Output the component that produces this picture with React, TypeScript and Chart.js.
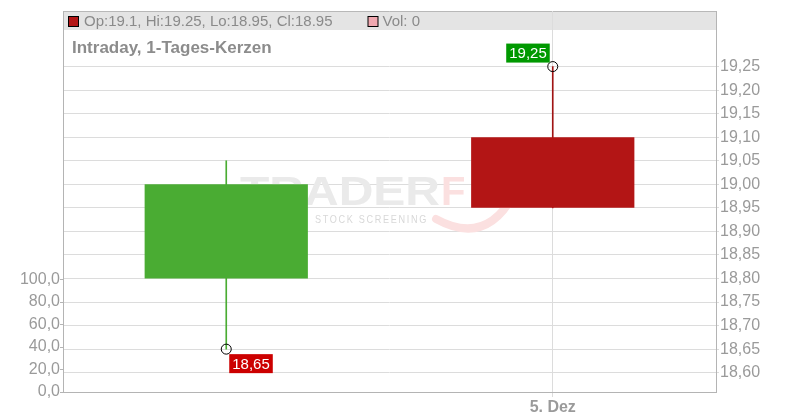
import React, { useEffect, useRef } from 'react';
import { Chart, registerables } from 'chart.js';

Chart.register(...registerables);

// candle data (two daily candles, only the second one carries a date label)
const categories = ['4. Dez', '5. Dez'];
const opens = [18.8, 19.1];
const highs = [19.05, 19.25];
const lows = [18.65, 18.95];
const closes = [19.0, 18.95];
const volumes = [0, 0];

// high / low markers with their value boxes
const markerValues = [18.65, 19.25];
const markerKinds = ['low', 'high'];

// axis ticks
const priceTicks = [18.6, 18.65, 18.7, 18.75, 18.8, 18.85, 18.9, 18.95, 19.0, 19.05, 19.1, 19.15, 19.2, 19.25];
const volumeTicks = [0, 20, 40, 60, 80, 100];
const priceMin = 18.559;
const priceMax = 19.368;
const volumeMax = 339;

const UP = '#4aac33';
const DOWN = '#b31515';
const GRID = '#dcdcdc';
const AXIS = '#b4b4b4';
const TEXT = '#9a9a9a';
const FONT = "'Liberation Sans', Arial, sans-serif";

const fmt = (v: number, d: number) => v.toFixed(d).replace('.', ',');

const headerPlugin = {
  id: 'header',
  beforeDraw(chart: Chart) {
    const { ctx, chartArea } = chart;
    const { left, right, top } = chartArea;
    const last = opens.length - 1;
    ctx.save();
    ctx.fillStyle = '#e4e4e4';
    ctx.fillRect(left, top, right - left, 19);
    ctx.strokeStyle = '#b8b8b8';
    ctx.lineWidth = 1;
    ctx.beginPath();
    ctx.moveTo(left, top + 0.5);
    ctx.lineTo(right, top + 0.5);
    ctx.stroke();

    // OHLC legend
    ctx.fillStyle = DOWN;
    ctx.fillRect(left + 5.5, top + 5.5, 10, 10);
    ctx.strokeStyle = '#000';
    ctx.strokeRect(left + 5.5, top + 5.5, 10, 10);
    ctx.font = `15px ${FONT}`;
    ctx.textBaseline = 'middle';
    ctx.fillStyle = '#8a8a8a';
    const ohlc = `Op:${opens[last]}, Hi:${highs[last]}, Lo:${lows[last]}, Cl:${closes[last]}`;
    ctx.fillText(ohlc, left + 21, top + 10.5);
    const volX = left + 21 + ctx.measureText(ohlc).width + 35;
    ctx.fillStyle = '#f0a8b0';
    ctx.fillRect(volX + 0.5, top + 5.5, 10, 10);
    ctx.strokeRect(volX + 0.5, top + 5.5, 10, 10);
    ctx.fillStyle = '#8a8a8a';
    ctx.fillText(`Vol: ${volumes[last]}`, volX + 15, top + 10.5);

    // title
    ctx.font = `bold 17px ${FONT}`;
    ctx.fillStyle = '#8c8c8c';
    ctx.fillText('Intraday, 1-Tages-Kerzen', left + 9, top + 37);
    ctx.restore();
  },
  beforeDatasetsDraw(chart: Chart) {
    // faint watermark
    const { ctx } = chart;
    ctx.save();
    ctx.textBaseline = 'alphabetic';
    ctx.font = `bold 40px ${FONT}`;
    const w = ctx.measureText('TRADER').width;
    ctx.translate(240, 205);
    ctx.scale(200 / w, 1);
    ctx.fillStyle = '#eaeaea';
    ctx.fillText('TRADER', 0, 0);
    ctx.restore();
    ctx.save();
    ctx.font = `bold 40px ${FONT}`;
    ctx.fillStyle = '#fbe0e0';
    ctx.fillText('F', 441, 205);
    ctx.strokeStyle = '#fbe0e0';
    ctx.lineWidth = 8;
    ctx.lineCap = 'round';
    ctx.beginPath();
    ctx.moveTo(436, 219);
    ctx.quadraticCurveTo(485, 246, 513, 196);
    ctx.stroke();
    ctx.font = `11px ${FONT}`;
    ctx.fillStyle = '#d8d8d8';
    ctx.letterSpacing = '2px';
    const sw = ctx.measureText('STOCK SCREENING').width;
    ctx.translate(315, 223);
    ctx.scale(113 / sw, 1);
    ctx.fillText('STOCK SCREENING', 0, 0);
    ctx.restore();
  },
  afterDatasetsDraw(chart: Chart) {
    const meta = chart.getDatasetMeta(3);
    const { ctx } = chart;
    ctx.save();
    ctx.font = `15px ${FONT}`;
    ctx.textBaseline = 'middle';
    meta.data.forEach((pt: any, i: number) => {
      const label = fmt(markerValues[i], 2);
      const tw = ctx.measureText(label).width + 6;
      const h = 19;
      let bx: number;
      let by: number;
      if (markerKinds[i] === 'high') {
        bx = pt.x - 3 - tw;
        by = pt.y - 4 - h;
        ctx.fillStyle = '#009900';
      } else {
        bx = pt.x + 3;
        by = pt.y + 5;
        ctx.fillStyle = '#cc0000';
      }
      ctx.fillRect(bx, by, tw, h);
      ctx.fillStyle = '#ffffff';
      ctx.fillText(label, bx + 3, by + h / 2 + 1);
    });
    ctx.restore();
  },
};

const App: React.FC = () => {
  const canvasRef = useRef<HTMLCanvasElement>(null);

  useEffect(() => {
    if (!canvasRef.current) return;
    Chart.defaults.font.family = FONT;
    const colors = opens.map((o, i) => (closes[i] >= o ? UP : DOWN));
    const wickColors = opens.map((o, i) => (closes[i] >= o ? UP : '#a01414'));

    const chart = new Chart(canvasRef.current, {
      type: 'bar',
      data: {
        labels: categories,
        datasets: [
          {
            type: 'bar',
            data: lows.map((l, i) => [l, highs[i]]) as any,
            backgroundColor: wickColors,
            barThickness: 1,
            grouped: false,
            yAxisID: 'yPrice',
            order: 3,
          },
          {
            type: 'bar',
            data: opens.map((o, i) => [o, closes[i]]) as any,
            backgroundColor: colors,
            barPercentage: 0.5,
            categoryPercentage: 1,
            grouped: false,
            yAxisID: 'yPrice',
            order: 2,
          },
          {
            type: 'bar',
            data: volumes,
            backgroundColor: '#f0a8b0',
            barPercentage: 0.5,
            categoryPercentage: 1,
            grouped: false,
            yAxisID: 'yVol',
            order: 4,
          },
          {
            type: 'line',
            data: markerValues,
            showLine: false,
            pointRadius: 5,
            pointBorderWidth: 1,
            pointBorderColor: '#000',
            pointBackgroundColor: 'rgba(255,255,255,0)',
            yAxisID: 'yPrice',
            order: 1,
          },
        ],
      },
      options: {
        animation: false,
        responsive: false,
        devicePixelRatio: 1,
        layout: { padding: { top: 11, left: 0, right: 0, bottom: 0 } },
        plugins: { legend: { display: false }, tooltip: { enabled: false } },
        scales: {
          x: {
            type: 'category',
            offset: true,
            grid: {
              offset: false,
              color: (c: any) => (c.index === 0 ? 'rgba(0,0,0,0)' : GRID),
              tickLength: 5,
            },
            border: { color: AXIS },
            ticks: {
              color: TEXT,
              font: { size: 16, weight: 'bold' },
              padding: 1,
              callback: (_v: any, i: number) => (i === 0 ? '' : categories[i]),
            },
            afterFit: (s: any) => {
              s.height = 28;
            },
          },
          yPrice: {
            type: 'linear',
            position: 'right',
            min: priceMin,
            max: priceMax,
            grid: { color: GRID, tickLength: 3 },
            border: { color: AXIS },
            ticks: {
              color: TEXT,
              font: { size: 16 },
              padding: 1,
              callback: (v: any) => fmt(Number(v), 2),
            },
            afterBuildTicks: (s: any) => {
              s.ticks = priceTicks.map((v) => ({ value: v }));
            },
            afterFit: (s: any) => {
              s.width = 84;
            },
          },
          yVol: {
            type: 'linear',
            position: 'left',
            min: 0,
            max: volumeMax,
            grid: { drawOnChartArea: false, color: AXIS, tickLength: 3 },
            border: { color: AXIS },
            ticks: {
              color: TEXT,
              font: { size: 16 },
              padding: 0,
              callback: (v: any) => fmt(Number(v), 1),
            },
            afterBuildTicks: (s: any) => {
              s.ticks = volumeTicks.map((v) => ({ value: v }));
            },
            afterFit: (s: any) => {
              s.width = 63;
            },
          },
        },
      } as any,
      plugins: [headerPlugin],
    });

    return () => {
      chart.destroy();
    };
  }, []);

  return (
    <div style={{ position: 'fixed', left: 0, top: 0, width: 800, height: 420, background: '#fff' }}>
      <canvas ref={canvasRef} width={800} height={420} />
    </div>
  );
};

export default App;
